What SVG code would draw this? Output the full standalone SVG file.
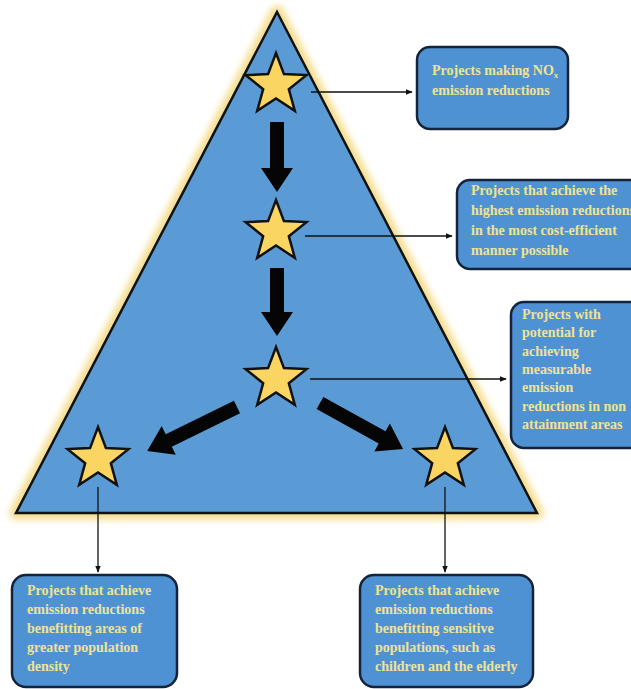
<svg xmlns="http://www.w3.org/2000/svg" width="631" height="689" viewBox="0 0 631 689">
<defs>
<style>
.box{fill:#4f92d3;stroke:#15233a;stroke-width:2.5}
.t{font-family:"Liberation Serif",serif;font-weight:bold;font-size:14px;fill:#f0e294}
.star{fill:#fbd562;stroke:#111;stroke-width:2.5;stroke-linejoin:miter}
.thin{stroke:#111;stroke-width:1.3;fill:none;marker-end:url(#ah)}
.thick{fill:#050505}
</style>
<marker id="ah" viewBox="0 0 10 10" refX="9" refY="5" markerWidth="7" markerHeight="7" markerUnits="userSpaceOnUse" orient="auto"><path d="M0,1 L10,5 L0,9 Z" fill="#111"/></marker>
<path id="st" d="M0,-32 L7.94,-10.92 L30.43,-9.89 L12.84,4.17 L18.81,25.89 L0,13.5 L-18.81,25.89 L-12.84,4.17 L-30.43,-9.89 L-7.94,-10.92 Z"/>
<filter id="glow" x="-10%" y="-10%" width="120%" height="120%"><feGaussianBlur stdDeviation="3.5"/></filter>
</defs>
<rect width="631" height="689" fill="#fff"/>
<g id="triangle">
<path d="M277,12 L537,513 L16,513 Z" fill="none" stroke="#f5dc8a" stroke-width="13" stroke-linejoin="round" filter="url(#glow)"/>
<path d="M277,12 L537,513 L16,513 Z" fill="#5a9bd6" stroke="#111" stroke-width="2.5" stroke-linejoin="miter"/>
</g>
<g id="connectors">
<polygon class="thick" transform="translate(277,122) rotate(90)" points="0,-7 46,-7 46,-16 70,0 46,16 46,7 0,7"/>
<polygon class="thick" transform="translate(277,268) rotate(90)" points="0,-7 44,-7 44,-16 68,0 44,16 44,7 0,7"/>
<polygon class="thick" transform="translate(237,407) rotate(153.9)" points="0,-7 76,-7 76,-16 100,0 76,16 76,7 0,7"/>
<polygon class="thick" transform="translate(320,403) rotate(29)" points="0,-7 71,-7 71,-16 95,0 71,16 71,7 0,7"/>
<line class="thin" x1="311" y1="92" x2="412" y2="92"/>
<line class="thin" x1="305" y1="236" x2="452" y2="236"/>
<line class="thin" x1="310" y1="379" x2="506" y2="379"/>
<line class="thin" x1="98" y1="487" x2="98" y2="572"/>
<line class="thin" x1="445" y1="487" x2="445" y2="572"/>
</g>
<g id="star1"><use href="#st" class="star" transform="translate(276,85)"/></g>
<g id="star2"><use href="#st" class="star" transform="translate(276,232)"/></g>
<g id="star3"><use href="#st" class="star" transform="translate(276,379)"/></g>
<g id="star4"><use href="#st" class="star" transform="translate(98,459)"/></g>
<g id="star5"><use href="#st" class="star" transform="translate(445,459)"/></g>
<g id="box1">
<rect class="box" x="417" y="47" width="151" height="82" rx="13"/>
<text class="t" x="432" y="75">Projects making NO<tspan font-size="9" dy="3">x</tspan></text>
<text class="t" x="432" y="95">emission reductions</text>
</g>
<g id="box2">
<rect class="box" x="457" y="180" width="190" height="89" rx="13"/>
<text class="t" x="471" y="195">Projects that achieve the</text>
<text class="t" x="471" y="215">highest emission reductions</text>
<text class="t" x="471" y="235">in the most cost-efficient</text>
<text class="t" x="471" y="255">manner possible</text>
</g>
<g id="box3">
<rect class="box" x="511" y="302" width="140" height="146" rx="13"/>
<text class="t" x="522" y="319">Projects with</text>
<text class="t" x="522" y="337">potential for</text>
<text class="t" x="522" y="356">achieving</text>
<text class="t" x="522" y="374">measurable</text>
<text class="t" x="522" y="392">emission</text>
<text class="t" x="522" y="411">reductions in non</text>
<text class="t" x="522" y="429">attainment areas</text>
</g>
<g id="box4">
<rect class="box" x="12" y="575" width="165" height="112" rx="14"/>
<text class="t" x="27" y="595">Projects that achieve</text>
<text class="t" x="27" y="614">emission reductions</text>
<text class="t" x="27" y="633">benefitting areas of</text>
<text class="t" x="27" y="652">greater population</text>
<text class="t" x="27" y="671">density</text>
</g>
<g id="box5">
<rect class="box" x="360" y="575" width="173" height="112" rx="14"/>
<text class="t" x="375" y="595">Projects that achieve</text>
<text class="t" x="375" y="614">emission reductions</text>
<text class="t" x="375" y="633">benefitting sensitive</text>
<text class="t" x="375" y="652">populations, such as</text>
<text class="t" x="375" y="671">children and the elderly</text>
</g>
</svg>
